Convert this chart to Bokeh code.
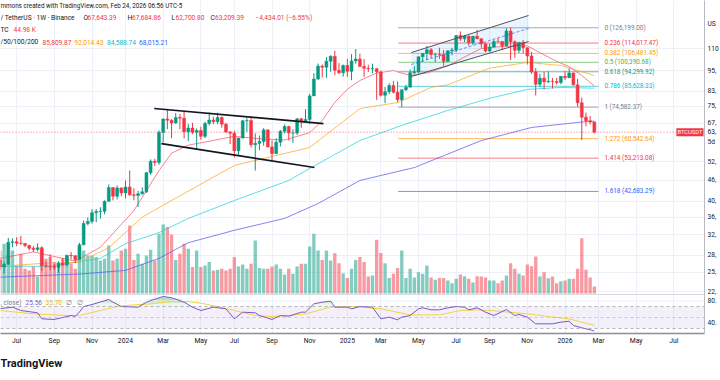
import math
from datetime import date
import numpy as np
from bokeh.plotting import figure
from bokeh.models import (ColumnDataSource, Range1d, LinearScale, FixedTicker,
                          Span, Label, BoxAnnotation, Title)
from bokeh.core.properties import value
from bokeh.embed import file_html
from bokeh.resources import INLINE

# ---------------------------------------------------------------- data
FIRST_WEEK = "2023-06-05"   # weekly candles, consecutive Mondays
OPEN = [27100, 25900, 26340, 30470, 30580, 30290, 30230, 29860, 29280, 29040,
        29410, 26100, 26010, 25950, 25830, 26530, 26250, 27970, 27900, 27150,
        29990, 34500, 35000, 37060, 37360, 37450, 39970, 43790, 41370, 43700,
        42280, 43950, 41730, 41580, 42030, 42580, 48300, 52140, 51730, 63110,
        68960, 68360, 67210, 69640, 69360, 63420, 64940, 63120, 63890, 61480,
        66940, 68500, 67760, 69650, 66640, 63210, 62770, 55860, 60800, 68160,
        68250, 58160, 58700, 59400, 64170, 57300, 54850, 59130, 63620, 65610,
        62820, 62850, 69030, 67930, 68750, 80370, 89850, 97900, 97200, 101100,
        104460, 95190, 93700, 98360, 94550, 101300, 102620, 97700, 96460, 96120,
        96260, 94270, 80730, 82600, 86080, 82390, 78380, 83760, 85170, 93750,
        94280, 104150, 106450, 109020, 105650, 105700, 105600, 100970, 108380, 108990,
        119840, 117300, 119400, 114200, 119300, 117400, 113500, 108250, 111150, 115270,
        115250, 112100, 123500, 115100, 108650, 114500, 110540, 104700, 94200, 86800,
        90400, 88200, 88500, 88400, 87800, 91500, 90600, 93500, 86500, 76800,
        69800, 68200, 67643.39]
HIGH = [27400, 26800, 31400, 31280, 31500, 31800, 30350, 29990, 29730, 30250,
        29690, 26800, 28150, 26400, 26880, 27480, 28060, 28580, 27990, 30380,
        35200, 35980, 37970, 38000, 38450, 40250, 44700, 43900, 44400, 43800,
        45880, 49050, 43580, 42840, 43880, 48590, 52800, 52980, 64000, 69170,
        73780, 68920, 71770, 71350, 72800, 66800, 67230, 64730, 65500, 67700,
        71980, 70000, 71950, 70200, 67190, 63780, 63780, 61000, 68400, 69400,
        70080, 62700, 61800, 65000, 64480, 59800, 60670, 64130, 66500, 66000,
        64480, 69400, 69500, 73620, 81500, 93400, 99590, 98900, 104000, 105200,
        108350, 99960, 98900, 102700, 106000, 109590, 106450, 102500, 98800, 99500,
        96500, 95000, 85300, 87450, 88770, 88500, 83590, 86500, 95750, 97900,
        104300, 106650, 111980, 110400, 106800, 110600, 108900, 108500, 110500, 119900,
        123200, 120250, 119800, 119400, 124470, 117600, 113600, 113400, 116700, 117900,
        115400, 125700, 126199, 116000, 114600, 116400, 110800, 107500, 96600, 93100,
        94200, 94600, 90400, 90600, 91600, 94800, 96500, 93800, 90000, 79500,
        72000, 70300, 67684.86]
LOW = [25350, 24800, 26250, 29500, 29700, 29950, 29500, 28860, 28580, 28700,
       25170, 25800, 25330, 25350, 24900, 26000, 26000, 27200, 26530, 27120,
       29900, 34080, 34500, 34800, 35630, 36700, 39900, 40220, 40500, 41300,
       40750, 41500, 40280, 38500, 41800, 42260, 47700, 50520, 50900, 59000,
       64500, 60760, 66800, 64490, 60660, 59600, 62400, 56550, 60180, 60750,
       66100, 66600, 66600, 65070, 63380, 58400, 53480, 54260, 60630, 63400,
       57130, 49000, 56100, 57800, 57200, 52550, 54600, 57500, 62700, 59830,
       58900, 62000, 65060, 67500, 66800, 80300, 89400, 90800, 90500, 94200,
       92200, 92800, 91300, 91200, 89200, 99500, 97800, 91200, 94100, 93400,
       78260, 80000, 76600, 81200, 81650, 77150, 74582.37, 83000, 85100, 92800,
       93300, 100700, 102000, 103100, 100400, 102700, 98200, 100900, 105100, 107500,
       115700, 114700, 112000, 112650, 116800, 110600, 107300, 107300, 110600, 114400,
       108700, 111600, 102000, 103500, 106700, 106300, 98900, 93000, 80600, 85300,
       83800, 87500, 84400, 86600, 86800, 89300, 90500, 86000, 74800, 60000,
       65700, 66500, 62700.80]
CLOSE = [25900, 26340, 30470, 30580, 30290, 30230, 29860, 29280, 29040, 29410,
         26100, 26010, 25950, 25830, 26530, 26250, 27970, 27900, 27150, 29990,
         34500, 35000, 37060, 37360, 37450, 39970, 43790, 41370, 43700, 42280,
         43950, 41730, 41580, 42030, 42580, 48300, 52140, 51730, 63110, 68960,
         68360, 67210, 69640, 69360, 63420, 64940, 63120, 63890, 61480, 66940,
         68500, 67760, 69650, 66640, 63210, 62770, 55860, 60800, 68160, 68250,
         58160, 58700, 59400, 64170, 57300, 54850, 59130, 63620, 65610, 62820,
         62850, 69030, 67930, 68750, 80370, 89850, 97900, 97200, 101100, 104460,
         95190, 93700, 98360, 94550, 101300, 102620, 97700, 96460, 96120, 96260,
         94270, 80730, 82600, 86080, 82390, 78380, 83760, 85170, 93750, 94280,
         104150, 106450, 109020, 105650, 105700, 105600, 100970, 108380, 108990, 119840,
         117300, 119400, 114200, 119300, 117400, 113500, 108250, 111150, 115270, 115250,
         112100, 123500, 115100, 108650, 114500, 110540, 104700, 94200, 86800, 90400,
         88200, 88500, 88400, 87800, 91500, 90600, 93500, 86500, 76800, 69800,
         68200, 67643.39, 63209.39]
VOLUME_K = [275, 318, 243, 275, 179, 254, 158, 147, 173, 109,
            280, 222, 233, 201, 169, 222, 233, 190, 158, 297,
            275, 243, 243, 233, 211, 222, 307, 211, 222, 275,
            286, 435, 215, 254, 190, 243, 280, 211, 382, 442,
            425, 378, 215, 254, 318, 286, 169, 275, 169, 179,
            201, 147, 152, 158, 147, 158, 233, 173, 186, 158,
            190, 339, 164, 158, 158, 173, 186, 158, 122, 158,
            126, 173, 190, 190, 301, 382, 275, 215, 275, 211,
            258, 194, 130, 100, 158, 215, 233,
            201, 109, 115, 344, 260, 194, 100, 126, 164, 275,
            100, 158, 102, 136, 126, 179, 102, 88, 100, 100,
            83, 66, 94, 122, 111, 94, 70, 111, 109, 102,
            83, 83, 66, 83, 115, 194, 158, 126, 115, 186,
            175, 237, 109, 136, 98, 109, 66, 79, 83, 94,
            94, 158, 354, 152, 102, 44.98]

MA20_DATES = ["2023-06-05", "2023-07-31", "2023-10-09", "2023-11-20", "2024-01-15", "2024-02-26",
              "2024-03-18", "2024-04-15", "2024-05-20", "2024-07-01", "2024-08-12", "2024-09-23",
              "2024-11-04", "2024-11-25", "2024-12-16", "2025-01-06", "2025-01-27", "2025-02-24",
              "2025-03-24", "2025-04-21", "2025-05-19", "2025-06-23", "2025-07-21", "2025-08-18",
              "2025-09-22", "2025-11-03", "2025-11-24", "2025-12-22", "2026-01-12", "2026-02-02",
              "2026-02-23"]
MA20 = [27400, 28600, 26900, 29500, 37600, 49000, 55000, 58000, 59500, 61500, 60500, 60000,
        63000, 68300, 77000, 84000, 89000, 93500, 95000, 92000, 93500, 98000, 104000, 110000,
        111500, 112000, 107000, 101000, 97500, 92000, 85809.87]
MA50_DATES = ["2023-06-05", "2023-08-14", "2023-10-16", "2023-12-04", "2024-01-29", "2024-03-18",
              "2024-07-01", "2024-11-04", "2025-01-27", "2025-03-31", "2025-05-26", "2025-06-23",
              "2025-09-01", "2025-11-03", "2025-12-29", "2026-02-23"]
MA50 = [26000, 26500, 26700, 29400, 36000, 40200, 50700, 57100, 73900, 76900, 85000, 86500,
        96600, 100300, 98300, 92014.43]
MA100_DATES = ["2023-06-05", "2023-08-28", "2023-11-20", "2024-01-01", "2024-02-26", "2024-04-15",
               "2024-07-01", "2024-09-30", "2024-11-04", "2025-01-27", "2025-04-07", "2025-06-23",
               "2025-09-01", "2025-11-03", "2025-12-29", "2026-02-23"]
MA100 = [26000, 26000, 27400, 30200, 32500, 35700, 40200, 45900, 49700, 59800, 66100, 73000,
         79100, 83900, 85000, 84588.74]
MA200_DATES = ["2023-06-05", "2023-10-16", "2024-01-01", "2024-02-26", "2024-04-15", "2024-07-01",
               "2024-09-23", "2024-11-18", "2025-01-27", "2025-04-28", "2025-08-18", "2025-11-10",
               "2026-02-02", "2026-02-23"]
MA200 = [24200, 24700, 25300, 27400, 30400, 33000, 35700, 39400, 45900, 50000, 59800, 65200,
         67600, 68015.21]

RSI_DATES = ["2023-06-05", "2023-06-26", "2023-07-10", "2023-08-07", "2023-08-14", "2023-09-04",
             "2023-09-25", "2023-10-02", "2023-10-09", "2023-10-16", "2023-10-23", "2023-11-06",
             "2023-12-04", "2023-12-11", "2023-12-25", "2024-01-22", "2024-02-05", "2024-02-26",
             "2024-03-04", "2024-03-18", "2024-04-08", "2024-04-22", "2024-05-06", "2024-05-27",
             "2024-06-17", "2024-07-01", "2024-07-15", "2024-08-05", "2024-08-12", "2024-09-02",
             "2024-09-16", "2024-09-30", "2024-10-21", "2024-10-28", "2024-11-11", "2024-11-25",
             "2024-12-09", "2024-12-16", "2025-01-06", "2025-01-13", "2025-01-27", "2025-02-17",
             "2025-03-03", "2025-03-17", "2025-03-31", "2025-04-07", "2025-04-21", "2025-05-05",
             "2025-05-12", "2025-05-26", "2025-06-09", "2025-06-23", "2025-07-07", "2025-07-21",
             "2025-07-28", "2025-08-11", "2025-08-25", "2025-09-08", "2025-09-22", "2025-09-29",
             "2025-10-13", "2025-10-20", "2025-11-03", "2025-11-17", "2025-11-24", "2025-12-15",
             "2025-12-29", "2026-01-12", "2026-01-19", "2026-02-02", "2026-02-16", "2026-02-23"]
RSI = [66, 68.8, 62.7, 58.5, 47.6, 46.4, 51.8, 53.6, 52, 60, 70, 73.6,
       82.7, 77.9, 70, 68.8, 77.9, 85.8, 88.2, 85.8, 77.9, 68.8, 62.7, 68.8,
       65.8, 47.6, 59.7, 58.5, 53.6, 46.4, 53.6, 52.4, 59.7, 59.7, 74.8, 77.9,
       79.7, 68.8, 68.8, 65.8, 70, 68.8, 47.6, 50.6, 45.8, 50.6, 53.6, 65.8,
       67.6, 64, 64, 67.6, 70, 68.8, 64, 67.6, 59.7, 53.6, 60.9, 64.5,
       53.6, 55.5, 50.6, 38.5, 38.5, 38.5, 41.5, 43.3, 35.5, 31.3, 27.6, 25.56]
RSI_MA_DATES = ["2023-06-05", "2023-07-31", "2023-09-25", "2023-10-16", "2023-11-20", "2023-12-18",
                "2024-01-15", "2024-02-12", "2024-03-18", "2024-04-15", "2024-05-06", "2024-06-03",
                "2024-07-01", "2024-08-05", "2024-09-02", "2024-09-30", "2024-10-28", "2024-11-18",
                "2024-12-09", "2025-01-06", "2025-01-27", "2025-03-03", "2025-04-21", "2025-06-09",
                "2025-07-14", "2025-08-18", "2025-09-22", "2025-11-03", "2025-12-08", "2026-01-12",
                "2026-02-02", "2026-02-23"]
RSI_MA = [62.7, 56.6, 53.6, 53.6, 62.7, 70, 73, 74.8, 79, 79, 76, 70,
          62.7, 53.6, 51.8, 53.6, 56.6, 62.7, 68.8, 70, 69, 65.8, 54.8, 54.8,
          62.7, 64, 60.9, 56.6, 51.8, 47.6, 41.5, 35.7]

FIB_LEVELS = ["0", "0.236", "0.382", "0.5", "0.618", "0.786", "1", "1.272", "1.414", "1.618"]
FIB_PRICES = [126199.00, 114017.47, 106481.45, 100390.68, 94299.92, 85628.33, 74582.37,
              60542.64, 53213.08, 42683.29]
FIB_DATES = ["2025-04-01", "2026-03-02"]
CHANNEL_DATES = ["2025-04-23", "2025-11-05"]
CHANNEL_UPPER = [107100, 136900]
CHANNEL_LOWER = [91400, 115200]
FLAG_UPPER_DATES = ["2024-02-18", "2024-11-27"]
FLAG_UPPER = [73900, 66900]
FLAG_LOWER_DATES = ["2024-03-01", "2024-11-12"]
FLAG_LOWER = [58600, 50000]

TIME_TICK_DATES = ["2023-07-03", "2023-09-04", "2023-11-06", "2024-01-01", "2024-03-04", "2024-05-06",
                   "2024-07-01", "2024-09-02", "2024-11-04", "2025-01-06", "2025-03-03", "2025-05-05",
                   "2025-07-07", "2025-09-01", "2025-11-03", "2026-01-05", "2026-03-02", "2026-05-04",
                   "2026-07-06"]
TIME_TICK_LABELS = ["Jul", "Sep", "Nov", "2024", "Mar", "May", "Jul", "Sep", "Nov", "2025", "Mar",
                    "May", "Jul", "Sep", "Nov", "2026", "Mar", "May", "Jul"]
PRICE_TICKS = [110000, 95000, 83000, 75000, 67000, 52000, 46000, 40000, 36000, 32000, 28000,
               25000, 22000]
RSI_TICKS = [80, 40]
LAST_PRICE = 63209.39
COUNTDOWN = "5d"
QUOTE = "US"

# ---------------------------------------------------------------- layout (reference pixels)
FIG_W, FIG_H = 720, 380
REF_B = 333                                # bottom of the RSI pane
FRAME_W = 704
X0_PX, PX_WEEK = 125.0, 4.186              # x of the 2024-01-01 bar, px per week
P0, P0_PX, PX_LN = 110000.0, 48.0, 151.0   # log price scale
VOL_BASE_PX, K_PER_PX = 293.0, 6.4
RSI_MID_PX, PX_PER_PT = 317.0, 0.55

UP, DOWN = "#089981", "#f23645"
FONT = "Roboto"


def wk(s):
    return (date.fromisoformat(s) - date(2024, 1, 1)).days / 7.0


def wks(lst):
    return [wk(s) for s in lst]


def px_week(px):
    return (px - X0_PX) / PX_WEEK


def px_price(py):
    return P0 * math.exp((P0_PX - py) / PX_LN)


p = figure(frame_width=FRAME_W, frame_height=REF_B,
           x_range=Range1d(px_week(0), px_week(FRAME_W)),
           y_range=Range1d(px_price(REF_B), px_price(0)),
           y_axis_type="log", y_axis_location="right",
           output_backend="svg", toolbar_location=None,
           min_border_left=0, min_border_top=0, min_border_right=FIG_W - FRAME_W,
           min_border_bottom=FIG_H - REF_B)
p.extra_y_ranges = {
    "vol": Range1d(-(REF_B - VOL_BASE_PX) * K_PER_PX, VOL_BASE_PX * K_PER_PX),
    "rsi": Range1d(50 - (REF_B - RSI_MID_PX) / PX_PER_PT, 50 + RSI_MID_PX / PX_PER_PT),
    "ry": Range1d(REF_B, 0),
}
p.extra_y_scales = {"vol": LinearScale(), "rsi": LinearScale(), "ry": LinearScale()}
p.extra_x_ranges = {"rx": Range1d(0, FRAME_W)}
p.extra_x_scales = {"rx": LinearScale()}
p.outline_line_color = None
p.background_fill_color = "white"
p.border_fill_color = "white"

# time axis
tick_w = [int(round(wk(d))) for d in TIME_TICK_DATES]
xt = FixedTicker(ticks=tick_w)
xa = p.xaxis[0]
xa.ticker = xt
xa.major_label_overrides = dict(zip(tick_w, TIME_TICK_LABELS))
xa.major_tick_line_color = None
xa.major_tick_out = 0
xa.major_tick_in = 0
xa.minor_tick_line_color = None
xa.axis_line_color = "#8a8d96"
xa.axis_line_width = 1.3
xa.major_label_text_font = FONT
xa.major_label_text_font_size = "6.8px"
xa.major_label_text_color = "#131722"
xa.major_label_standoff = 3

# price axis (right) – also carries the RSI pane scale, the last-price tag and the quote currency
rsi_px = lambda v: RSI_MID_PX - (v - 50) * PX_PER_PT
axis_labels = {t: f"{t:,.2f}"[:3] for t in PRICE_TICKS}
axis_labels[LAST_PRICE] = f"{LAST_PRICE:,.2f}"[:3]
axis_labels[px_price(P0_PX + PX_LN * math.log(P0 / LAST_PRICE) + 9.5)] = COUNTDOWN
for v in RSI_TICKS:
    axis_labels[px_price(rsi_px(v))] = f"{v:.2f}"[:3]
axis_labels[px_price(23)] = QUOTE
ya = p.yaxis[0]
ya.ticker = FixedTicker(ticks=sorted(axis_labels))
ya.major_label_overrides = axis_labels
ya.major_tick_line_color = None
ya.major_tick_out = 0
ya.major_tick_in = 0
ya.minor_tick_line_color = None
ya.axis_line_color = "#b8bbc3"
ya.major_label_text_font = FONT
ya.major_label_text_font_size = "6.6px"
ya.major_label_text_color = "#131722"
ya.major_label_standoff = 3

p.xgrid.ticker = xt
p.ygrid.ticker = FixedTicker(ticks=PRICE_TICKS)
for g in (p.xgrid[0], p.ygrid[0]):
    g.grid_line_color = "#edf0f6"
    g.grid_line_width = 1

# RSI pane background / guides
p.add_layout(BoxAnnotation(bottom=30, top=70, y_range_name="rsi", fill_color="#7e57c2",
                           fill_alpha=0.09, line_color=None, level="underlay"))
for lv, a in ((70, 0.7), (50, 0.45), (30, 0.7)):
    p.add_layout(Span(location=lv, dimension="width", y_range_name="rsi", line_color="#9598a1",
                      line_dash="3 3", line_alpha=a, line_width=1))
for lv in RSI_TICKS:
    p.add_layout(Span(location=lv, dimension="width", y_range_name="rsi",
                      line_color="#edf0f6", line_width=1, level="underlay"))
# pane separator
p.add_layout(Span(location=294, dimension="width", y_range_name="ry",
                  line_color="#d6d9e0", line_width=1))

# ---------------------------------------------------------------- main series
n = len(CLOSE)
x0 = wk(FIRST_WEEK)
xs = [x0 + i for i in range(n)]
cols = [UP if c >= o else DOWN for o, c in zip(OPEN, CLOSE)]
src = ColumnDataSource(dict(x=xs, o=OPEN, h=HIGH, l=LOW, c=CLOSE,
                            top=[max(o, c) for o, c in zip(OPEN, CLOSE)],
                            bot=[min(o, c) for o, c in zip(OPEN, CLOSE)],
                            col=cols, vol=VOLUME_K))
p.vbar(x="x", top="vol", bottom=0, width=0.8, fill_color="col", fill_alpha=0.5,
       line_color=None, y_range_name="vol", source=src)

# channel fill
cx = wks(CHANNEL_DATES)
p.patch([cx[0], cx[1], cx[1], cx[0]],
        [CHANNEL_UPPER[0], CHANNEL_UPPER[1], CHANNEL_LOWER[1], CHANNEL_LOWER[0]],
        fill_color="#2196f3", fill_alpha=0.1, line_color=None)

# fib retracement
fx = wks(FIB_DATES)
FIB_COLORS = ["#787b86", "#f23645", "#ff9800", "#4caf50", "#089981", "#00bcd4",
              "#787b86", "#ff9800", "#f23645", "#2962ff"]
p.segment(x0=[fx[0]] * len(FIB_PRICES), y0=FIB_PRICES, x1=[fx[1]] * len(FIB_PRICES),
          y1=FIB_PRICES, line_color=FIB_COLORS, line_alpha=0.65, line_width=1)
p.text(x=[fx[1] + 1.4] * len(FIB_PRICES), y=FIB_PRICES,
       text=[f"{lv} ({pr:,.2f})" for lv, pr in zip(FIB_LEVELS, FIB_PRICES)],
       text_color=FIB_COLORS, text_font=value(FONT), text_font_size="6.4px",
       text_baseline="middle", text_align="left")

# moving averages
for d, v, c in ((MA200_DATES, MA200, "#5b5cf0"), (MA100_DATES, MA100, "#22d3e6"),
                (MA50_DATES, MA50, "#ffa726"), (MA20_DATES, MA20, "#f45b66")):
    p.line(wks(d), v, line_color=c, line_width=1, line_alpha=0.75)

# candles
p.segment(x0="x", y0="h", x1="x", y1="l", line_color="col", line_width=1, source=src)
p.vbar(x="x", top="top", bottom="bot", width=0.7, fill_color="col", line_color="col",
       line_width=0.5, source=src)

# trend drawings
p.line(cx, CHANNEL_UPPER, line_color="#50535e", line_width=1)
p.line(cx, CHANNEL_LOWER, line_color="#50535e", line_width=1)
p.line(cx, [math.sqrt(a * b) for a, b in zip(CHANNEL_UPPER, CHANNEL_LOWER)],
       line_color="#2962ff", line_width=1, line_dash="3 2", line_alpha=0.7)
p.line(wks(FLAG_UPPER_DATES), FLAG_UPPER, line_color="#131722", line_width=1.6)
p.line(wks(FLAG_LOWER_DATES), FLAG_LOWER, line_color="#131722", line_width=1.6)

# last price line
p.add_layout(Span(location=LAST_PRICE, dimension="width", line_color=DOWN, line_dash="1 2",
                  line_alpha=0.7, line_width=1))

# ---------------------------------------------------------------- RSI
rx_ = wks(RSI_DATES)
rv = np.array(RSI, dtype=float)
for lo, a in ((70, 0.10), (76, 0.22), (82, 0.36), (88, 0.5)):
    p.varea(x=rx_, y1=[lo] * len(rv), y2=np.clip(rv, lo, lo + 6), y_range_name="rsi",
            fill_color="#4caf50", fill_alpha=a)
p.line(wks(RSI_MA_DATES), RSI_MA, y_range_name="rsi", line_color="#f2d43d", line_width=1)
p.line(rx_, RSI, y_range_name="rsi", line_color="#7e57c2", line_width=1)


# ---------------------------------------------------------------- texts (reference px)
def lab(x, y, t, color="#131722", size="6.6px", style="normal", align="left", **kw):
    p.add_layout(Label(x=x, y=y, text=t, x_range_name="rx", y_range_name="ry",
                       text_color=color, text_font=FONT, text_font_size=size,
                       text_font_style=style, text_baseline="middle", text_align=align, **kw))


lab(0, 5, "mmons created with TradingView.com, Feb 24, 2026 06:56 UTC-5", size="6.3px")
L2 = 17
lab(0, L2, "/ TetherUS · 1W · Binance")
for x_l, letter, x_v, val in ((83, "O", 87, "67,643.39"), (127, "H", 131.5, "67,684.86"),
                              (171, "L", 175, "62,700.80"), (210, "C", 214.5, "63,209.39")):
    lab(x_l, L2, letter)
    lab(x_v, L2, val, color=DOWN)
lab(255, L2, "\u22124,434.01 (\u22126.55%)", color=DOWN)
lab(0, 29.5, "TC")
lab(13, 29.5, "44.98 K", color=DOWN)
lab(0, 41.5, "/50/100/200")
for xv, val, c in ((42, "85,809.87", "#f23645"), (74, "92,014.43", "#ff9800"),
                   (106.5, "84,588.74", "#00bcd4"), (138.5, "68,015.21", "#2962ff")):
    lab(xv, 41.5, val, color=c)

lab(0, 302, ", close)", color="#787b86")
lab(25, 302, "25.56", color="#7e57c2")
lab(45, 302, "35.70", color="#e0b800")
lab(65, 302, "\u2205", color="#787b86")
lab(76, 302, "\u2205", color="#787b86")

p.add_layout(Label(x=FRAME_W - 1, y=LAST_PRICE, text="BTCUSDT", x_range_name="rx",
                   text_color="white", text_font=FONT, text_font_size="5.8px",
                   text_baseline="middle", text_align="right",
                   background_fill_color=DOWN, padding=1))

p.add_layout(Title(text="TradingView", align="left", text_font=FONT, text_font_size="11px",
                   text_font_style="bold", text_color="#131722", standoff=14), "below")

open("out.html", "w").write(file_html(p, INLINE))
